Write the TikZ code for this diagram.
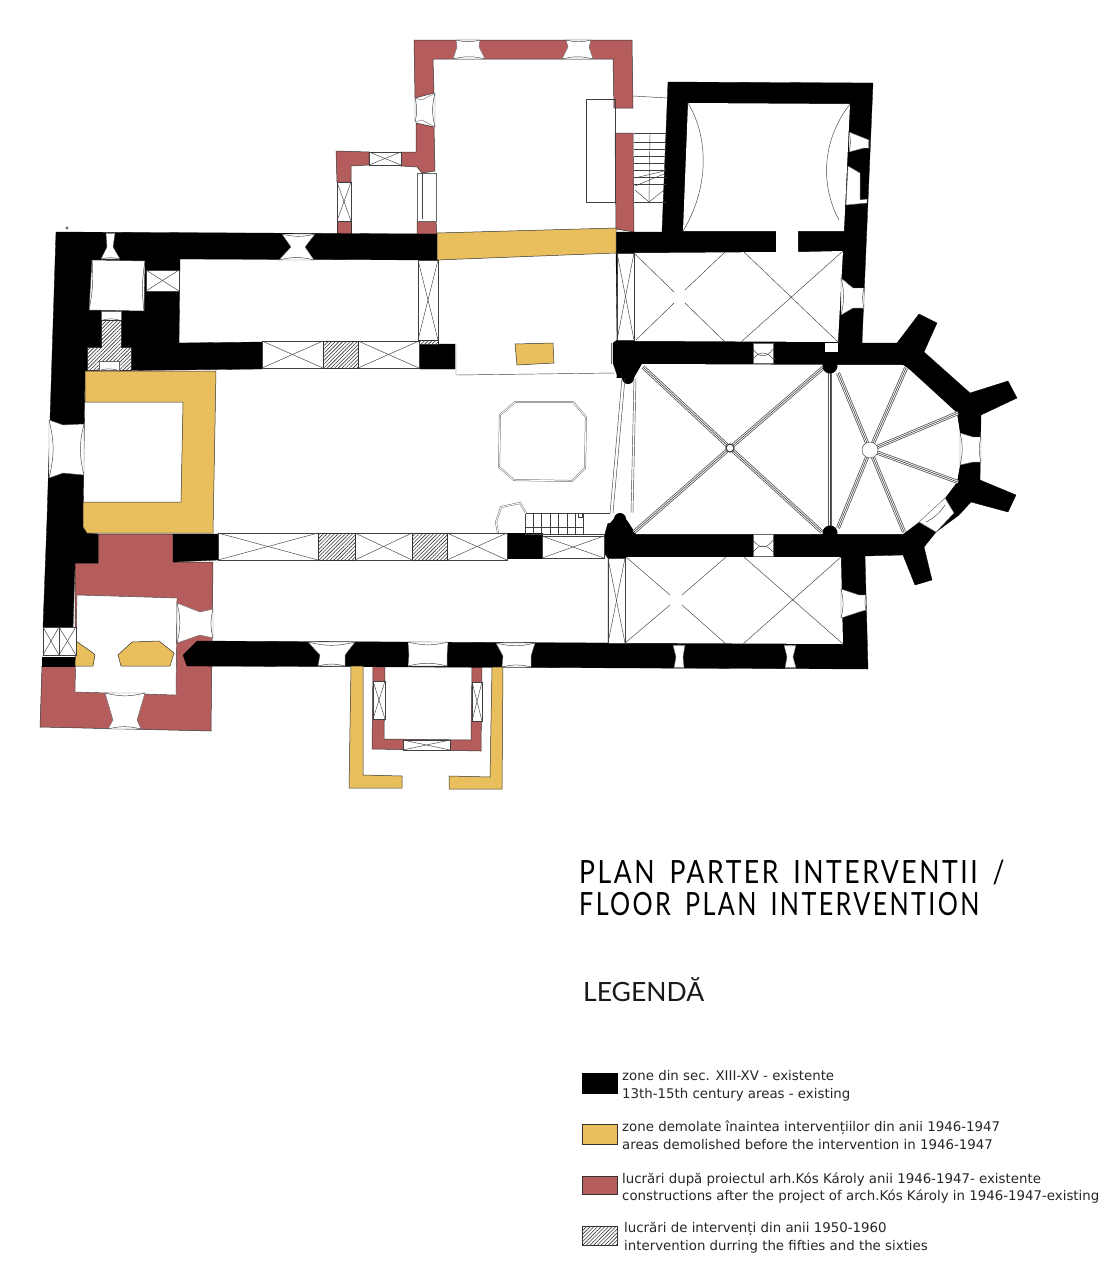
\documentclass[tikz,border=0pt]{standalone}
\usepackage{fontspec}
\setmainfont{DejaVu Sans}
\newfontfamily\titlefont[LetterSpace=9.5,WordSpace=1.6]{Lato}
\newfontfamily\headfont{Lato}
\usetikzlibrary{patterns.meta}
\definecolor{demolwall}{HTML}{E9BE5C}
\definecolor{newwall}{HTML}{B55D5D}
\tikzset{
	wallold/.style={fill=black,draw=black,line width=0.3pt},
	walldemol/.style={fill=demolwall,draw=black!80,line width=0.5pt},
	wallnew/.style={fill=newwall,draw=black!80,line width=0.5pt},
	hatchbox/.style={fill=white,draw=black!80,line width=0.4pt,postaction={pattern={Lines[angle=45,distance=2.6pt,line width=0.6pt]},pattern color=black!80}},
	roomfill/.style={fill=white,draw=none},
	planline/.style={draw=black!75,line width=0.45pt},
	openfill/.style={fill=white,draw=black!60,line width=0.4pt},
	doubleline/.style={draw=black!55,line width=0.5pt,double=white,double distance=0.9pt},
	rib/.style={draw=black!65,line width=4pt},
	ribin/.style={draw=white,line width=2.4pt},
	ribcore/.style={draw=black!75,line width=0.6pt},
	legtext/.style={anchor=west,inner sep=0pt,align=left,font=\fontsize{13.35}{17.8}\selectfont,text=black!85},
	titletext/.style={anchor=west,inner sep=0pt,font=\titlefont\fontsize{32}{32}\selectfont,transform shape},
}
\begin{document}
\begin{tikzpicture}[x=1pt,y=-1pt]
	\useasboundingbox (0,0) rectangle (1106,1280);
	% added parts
	\filldraw[wallnew] (414,40) -- (632,40) -- (633,108) -- (614,108) -- (613,59) -- (433,59) -- (434,93) -- (415,98) -- cycle;
	\filldraw[wallnew] (416,123) -- (434,127) -- (435,171) -- (422,173) -- (417,167) -- (401,166) -- (401,152) -- (416,152) -- cycle;
	\filldraw[wallnew] (336,151) -- (369,152) -- (369,165) -- (351,166) -- (351,182) -- (337,182) -- cycle;
	\filldraw[wallnew] (337,221) -- (351,221) -- (351,236) -- (337,236) -- cycle;
	\filldraw[wallnew] (417,220) -- (423,218) -- (436,221) -- (437,236) -- (417,236) -- cycle;
	\filldraw[wallnew] (615,133) -- (633,133) -- (634,232) -- (616,229) -- cycle;
	\filldraw[wallnew] (40,727) -- (211,731) -- (213,562) -- (173,562) -- (173,534) -- (98,534) -- (98,563) -- (75,563) -- (75,666) -- (42,666) -- cycle;
	\filldraw[wallnew] (373,666) -- (385,666) -- (384,739) -- (471,740) -- (472,667) -- (482,667) -- (481,751) -- (372,749) -- cycle;
	% old walls
	\filldraw[wallold] (56,232) -- (437,234) -- (437,260) -- (180,259) -- (179,343) -- (262,342) -- (262,369) -- (85,371) -- (83,527) -- (87,533) -- (98,534) -- (98,563) -- (75,563) -- (73,627) -- (43,627) -- (47,520) -- (50,420) -- cycle;
	\filldraw[wallold] (42,657) -- (75,657) -- (75,666) -- (42,666) -- cycle;
	\filldraw[wallold] (173,534) -- (218,534) -- (218,560) -- (173,562) -- cycle;
	\filldraw[wallold] (419,344) -- (455,344) -- (455,369) -- (420,369) -- cycle;
	\filldraw[wallold] (506,533) -- (542,533) -- (542,558) -- (506,558) -- cycle;
	\filldraw[wallold] (616,232) -- (662,232) -- (668,82) -- (873,83) -- (862,343) -- (897,343) -- (919,314) -- (937,323) -- (924,352) -- (970,393) -- (1008,381) -- (1017,398) -- (981,415) -- (980,480) -- (1016,495) -- (1008,512) -- (971,502) -- (959,515) -- (936,532) -- (924,547) -- (932,580) -- (915,585) -- (903,555) -- (865,556) -- (868,669) -- (187,666) -- (183,655) -- (197,641) -- (608,643) -- (608,558) -- (604,553) -- (604,537) -- (608,523) -- (617,375) -- (613,363) -- (613,343) -- (617,340) -- (616,253) -- cycle;
	% demolished parts
	\filldraw[walldemol] (85,371) -- (216,371) -- (213,533) -- (87,533) -- (83,527) -- (83,502) -- (181,502) -- (183,402) -- (85,402) -- cycle;
	\filldraw[walldemol] (437,233) -- (616,228) -- (616,253) -- (437,260) -- cycle;
	\filldraw[walldemol] (515,344) -- (553,343) -- (554,363) -- (517,365) -- cycle;
	\filldraw[walldemol] (351,666) -- (363,666) -- (363,775) -- (402,776) -- (402,788) -- (349,788) -- cycle;
	\filldraw[walldemol] (492,667) -- (503,667) -- (502,789) -- (449,789) -- (449,776) -- (490,777) -- cycle;
	% rooms
	\fill[roomfill] (688,103) -- (850,104) -- (844,231) -- (683,231) -- cycle;
	\fill[roomfill] (634,253) -- (776,252) -- (776,231) -- (798,231) -- (798,252) -- (843,251) -- (838,342) -- (635,341) -- cycle;
	\fill[roomfill] (642,364) -- (903,365) -- (910,370) -- (957,413) -- (960,433) -- (960,465) -- (957,482) -- (945,498) -- (919,522) -- (903,534) -- (636,534) -- (629,523) -- (624,516) -- (616,516) -- (610,523) -- (603,523) -- (603,378) -- (622,378) -- (634,378) -- cycle;
	\fill[roomfill] (626,557) -- (841,557) -- (843,644) -- (625,643) -- cycle;
	\fill[roomfill] (825,343) rectangle (838,352);
	\filldraw[planline,fill=white] (92,260) -- (145,261) -- (144,311) -- (89,310) -- cycle;
	\filldraw[planline,fill=white] (77,595) -- (177,598) -- (176,695) -- (75,692) -- cycle;
	\filldraw[walldemol] (76,641) -- (93,653) -- (95,655) -- (93,666) -- (75,666) -- cycle;
	\filldraw[walldemol] (132,642) -- (159,641) -- (174,653) -- (170,666) -- (121,666) -- (118,655) -- cycle;
	\draw[planline] (92,260) to[bend left=8] (89,310);
	\draw[planline] (145,261) to[bend right=8] (144,311);
	\draw[planline] (688,103) .. controls (710,140) and (708,190) .. (683,231);
	\draw[planline] (850,104) .. controls (822,140) and (820,185) .. (839,220);
	% windows seen from the wall end
	\foreach \xa/\xb/\xc/\xd/\xe/\xf/\ya/\ym/\yb in {456/480/457/479/453/485/40/47/59, 566/591/568/589/562/593/40/47/59, 282/315/291/305/279/314/234/247/260, 106/115/107/113/101/120/233/247/259, 105/145/113/137/108/141/693/720/729, 308/355/320/345/318/345/642/655/666, 408/448/409/447/408/447/642/655/666, 496/535/503/531/502/531/643/656/667, 673/685/676/683/674/684/645/657/668, 784/796/787/793/785/796/645/657/668}{
		\filldraw[openfill] (\xa,\ya) -- (\xb,\ya) -- (\xd,\ym) -- (\xf,\yb) -- (\xe,\yb) -- (\xc,\ym) -- cycle;
		\draw[planline] (\xa,\ya) to[bend right=14] (\xb,\ya);
		\draw[planline] (\xe,\yb) to[bend left=14] (\xf,\yb);
	}
	\foreach \xa/\xb/\xc/\ya/\yb/\yc/\yd/\ye/\yf in {415/422/435/98/122/100/120/93/127, 49/63/84/420/478/425/473/424/475, 177/200/213/603/643/612/635/609/638, 849/864/869/132/152/138/148/140/148, 841/853/864/278/315/288/308/288/308, 841/859/866/589/618/595/612/595/610, 960/973/981/433/465/437/462/437/462}{
		\filldraw[openfill] (\xa,\ya) -- (\xb,\yc) -- (\xc,\ye) -- (\xc,\yf) -- (\xb,\yd) -- (\xa,\yb) -- cycle;
		\draw[planline] (\xa,\ya) to[bend left=14] (\xa,\yb);
		\draw[planline] (\xc,\ye) to[bend right=14] (\xc,\yf);
	}
	\filldraw[openfill] (848,166) -- (860,173) -- (860,200) -- (867,199) -- (867,203) -- (846,205) -- cycle;
	\filldraw[openfill] (919,522) -- (945,498) -- (954,513) -- (936,532) -- cycle;
	\draw[planline] (926,522) to[bend right=14] (945,505);
	\foreach \xa/\ya/\xb/\yb in {753/343/773/363, 753/534/773/556}{
		\filldraw[openfill] (\xa,\ya) rectangle (\xb,\yb);
		\draw[planline] (\xa,\ya+6) .. controls (\xa+6,\ya+15) and (\xb-6,\ya+15) .. (\xb,\ya+6);
		\draw[planline] (\xa,\yb-4) .. controls (\xa+6,\yb-12) and (\xb-6,\yb-12) .. (\xb,\yb-4);
	}
	\filldraw[openfill] (417,173) rectangle (436,221);
	\draw[planline] (422,173) -- (422,219);
	\filldraw[openfill] (101,311) rectangle (121,320);
	% crossed panels
	\foreach \xa/\ya/\xb/\yb in {146/270/179/291, 262/341/323/368, 358/341/419/368, 418/260/438/340, 617/253/634/340, 218/533/318/560, 355/533/412/560, 447/533/507/560, 542/536/604/558, 608/558/625/643, 43/627/59/655, 59/627/76/655, 369/152/401/165, 337/182/351/221, 373/681/385/719, 472/682/482/721, 403/740/450/750}{
		\filldraw[openfill,draw=black!75] (\xa,\ya) rectangle (\xb,\yb);
		\draw[planline] (\xa,\ya) -- (\xb,\yb);
		\draw[planline] (\xa,\yb) -- (\xb,\ya);
	}
	% later interventions
	\filldraw[hatchbox] (101,320) -- (121,320) -- (121,347) -- (131,347) -- (131,370) -- (87,370) -- (87,347) -- (101,347) -- cycle;
	\filldraw[openfill] (99,361) rectangle (119,370);
	\draw[planline] (101,370) to[bend left=14] (117,370);
	\draw[planline] (103,320) to[bend left=14] (119,320);
	\foreach \xa/\ya/\xb/\yb in {323/341/358/368, 419/340/438/344, 318/533/355/560, 412/533/447/560}{
		\filldraw[hatchbox] (\xa,\ya) rectangle (\xb,\yb);
	}
	% vaults
	\draw[planline] (634,253) -- (674,292) (685,303) -- (725,342) (725,252) -- (685,290) (674,303) -- (636,340);
	\draw[planline] (744,252) -- (838,342) (843,251) -- (741,342);
	\draw[planline] (626,557) -- (670,595) (682,605) -- (726,644) (726,557) -- (682,595) (670,605) -- (625,643);
	\draw[planline] (744,557) -- (843,644) (841,557) -- (743,644);
	% ribs of the choir
	\foreach \xa/\ya/\xb/\yb in {643/367/730/448, 824/367/730/448, 634/532/730/448, 822/532/730/448, 830/373/830/527, 838/373/870/450, 906/368/870/450, 958/413/870/450, 958/482/870/450, 904/532/870/450, 838/528/870/450}{
		\draw[rib] (\xa,\ya) -- (\xb,\yb);
		\draw[ribin] (\xa,\ya) -- (\xb,\yb);
		\draw[ribcore] (\xa,\ya) -- (\xb,\yb);
	}
	\filldraw[planline,fill=white,line width=1.2pt] (730,448) circle (4);
	\filldraw[planline,fill=white] (870,450) circle (8);
	\fill[black] (830,366) circle (7.5) (830,533) circle (7.5) (628,378) circle (6) (620,519) circle (6);
	% arch and nave lines
	\draw[planline] (622,378) -- (610,513) (625,378) -- (613,513) (634,378) -- (631,513) (636,378) -- (633,513);
	\draw[planline] (456,345) -- (456,375) -- (615,373);
	\draw[planline] (586,99) rectangle (615,202);
	\draw[planline,draw=black!60] (611,343) -- (611,364);
	\draw[doubleline] (515,402) -- (573,402) -- (586,417) -- (585,468) -- (572,481) -- (514,480) -- (499,467) -- (500,415) -- cycle;
	\draw[doubleline] (498,533) -- (496,522) -- (501,507) -- (520,503) -- (526,513);
	\draw[planline] (526,513) -- (610,513) (525,534) -- (604,534);
	% stairs
	\foreach \x in {525,533,541,550,558,567,575,583}{
		\draw[planline] (\x,514) -- (\x,534);
	}
	\draw[planline] (525,527) -- (584,527);
	\draw[planline] (578,513) rectangle (582,517);
	\foreach \y in {133,142,149,156,163,170,177,184,202}{
		\draw[planline] (634,\y) -- (666,\y);
	}
	\draw[planline] (650,133) -- (649,202);
	\draw[planline] (635,178) -- (664,171) (635,186) -- (664,174) (635,190) -- (649,202) -- (664,190);
	\draw[planline] (633,96) -- (667,98);
	\draw[planline] (67,228) circle (1.3);
	% legend
	\node[titletext,xscale=0.83] (titleA) at (579,872) {PLAN PARTER INTERVENTII /};
	\node[titletext,xscale=0.785] (titleB) at (579,904) {FLOOR PLAN INTERVENTION};
	\node[anchor=west,inner sep=0pt,font=\headfont\fontsize{26.5}{27}\selectfont,text=black!90] (legendhead) at (583,990) {LEGENDĂ};
	\filldraw[wallold] (582,1073) rectangle (617,1093);
	\filldraw[walldemol] (582,1124) rectangle (617,1144);
	\filldraw[wallnew] (582,1176) rectangle (617,1194);
	\filldraw[hatchbox] (582,1226) rectangle (617,1245);
	\node[legtext] (textA) at (622,1086) {zone din sec. XIII-XV - existente\\13th-15th century areas - existing};
	\node[legtext] (textB) at (622,1135) {zone demolate înaintea intervențiilor din anii 1946-1947\\areas demolished before the intervention in 1946-1947};
	\node[legtext] (textC) at (622,1188) {lucrări după proiectul arh.Kós Károly anii 1946-1947- existente\\constructions after the project of arch.Kós Károly in 1946-1947-existing};
	\node[legtext] (textD) at (624,1238) {lucrări de intervenți din anii 1950-1960\\intervention durring the fifties and the sixties};
\end{tikzpicture}
\end{document}
